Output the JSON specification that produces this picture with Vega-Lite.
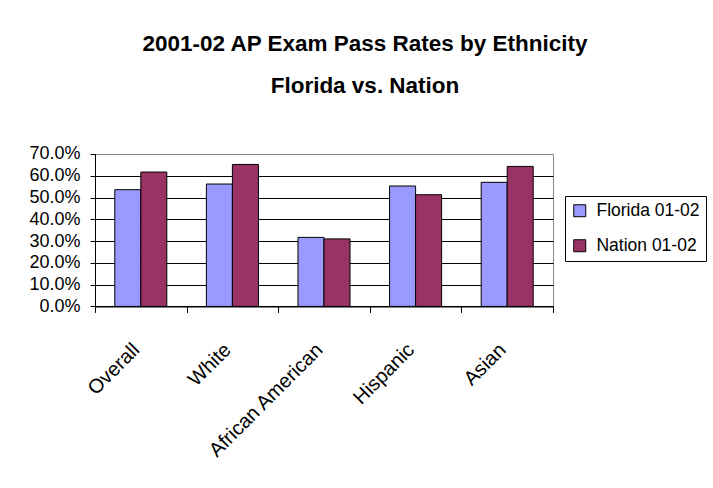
{
  "$schema": "https://vega.github.io/schema/vega-lite/v6.json",
  "autosize": {"type": "none"},
  "padding": {"left": 95, "top": 154, "right": 160, "bottom": 181},
  "width": 458,
  "height": 152.4,
  "background": "white",
  "title": {
    "text": ["2001-02 AP Exam Pass Rates by Ethnicity", "Florida vs. Nation"],
    "font": "Liberation Sans",
    "fontSize": 22.5,
    "fontWeight": "bold",
    "color": "black",
    "lineHeight": 42,
    "anchor": "middle",
    "dx": 41,
    "offset": 47
  },
  "data": {
    "values": [
      {"group": "Overall", "series": "Florida 01-02", "rate": 0.536},
      {"group": "Overall", "series": "Nation 01-02", "rate": 0.617},
      {"group": "White", "series": "Florida 01-02", "rate": 0.562},
      {"group": "White", "series": "Nation 01-02", "rate": 0.652},
      {"group": "African American", "series": "Florida 01-02", "rate": 0.317},
      {"group": "African American", "series": "Nation 01-02", "rate": 0.310},
      {"group": "Hispanic", "series": "Florida 01-02", "rate": 0.553},
      {"group": "Hispanic", "series": "Nation 01-02", "rate": 0.513},
      {"group": "Asian", "series": "Florida 01-02", "rate": 0.570},
      {"group": "Asian", "series": "Nation 01-02", "rate": 0.643}
    ]
  },
  "mark": {"type": "bar", "stroke": "black", "strokeWidth": 1},
  "encoding": {
    "x": {
      "field": "group",
      "type": "nominal",
      "sort": ["Overall", "White", "African American", "Hispanic", "Asian"],
      "scale": {"paddingInner": 0, "paddingOuter": 0},
      "axis": {
        "title": null,
        "labelAngle": -45,
        "labelAlign": "right",
        "labelBaseline": "top",
        "labelFont": "Liberation Sans",
        "labelFontSize": 20,
        "labelColor": "black",
        "labelPadding": 27,
        "labelOffset": -12,
        "tickBand": "extent",
        "tickSize": 6,
        "tickColor": "black",
        "domainColor": "black",
        "labelLimit": 300
      }
    },
    "xOffset": {
      "field": "series",
      "type": "nominal",
      "sort": ["Florida 01-02", "Nation 01-02"],
      "scale": {"paddingInner": 0, "paddingOuter": 0.76}
    },
    "y": {
      "field": "rate",
      "type": "quantitative",
      "scale": {"domain": [0, 0.7], "nice": false},
      "axis": {
        "title": null,
        "values": [0, 0.1, 0.2, 0.3, 0.4, 0.5, 0.6, 0.7],
        "format": ".1%",
        "labelFont": "Liberation Sans",
        "labelFontSize": 18,
        "labelColor": "black",
        "labelPadding": 10,
        "tickSize": 5,
        "tickColor": "black",
        "domainColor": "black",
        "grid": true,
        "gridColor": {"condition": {"test": "datum.value >= 0.7", "value": "#888888"}, "value": "black"},
        "gridOpacity": 1
      }
    },
    "color": {
      "field": "series",
      "type": "nominal",
      "scale": {"domain": ["Florida 01-02", "Nation 01-02"], "range": ["#9999FF", "#993366"]},
      "legend": {
        "title": null,
        "orient": "none",
        "legendX": 470,
        "legendY": 42,
        "strokeColor": "black",
        "padding": 6,
        "symbolType": "square",
        "symbolSize": 144,
        "symbolStrokeColor": "black",
        "symbolStrokeWidth": 1,
        "symbolOpacity": 1,
        "labelFont": "Liberation Sans",
        "labelFontSize": 17.5,
        "labelColor": "black",
        "labelOffset": 8,
        "rowPadding": 16
      }
    }
  },
  "config": {
    "view": {"stroke": "#888888", "strokeWidth": 1},
    "axis": {"domainWidth": 1, "gridWidth": 1}
  }
}
